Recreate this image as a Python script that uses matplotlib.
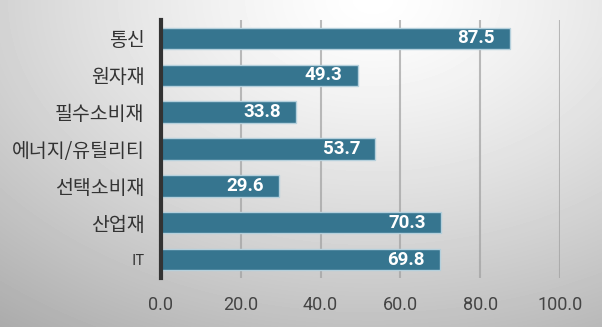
import numpy as np
import matplotlib
matplotlib.use("Agg")
import matplotlib.pyplot as plt

categories = ["통신", "원자재", "필수소비재", "에너지/유틸리티", "선택소비재", "산업재", "IT"]
values = [87.5, 49.3, 33.8, 53.7, 29.6, 70.3, 69.8]
xticks = [0, 20, 40, 60, 80, 100]

plt.rcParams["font.family"] = ["Noto Sans CJK KR", "DejaVu Sans"]

fig = plt.figure(figsize=(6.02, 3.27), dpi=100)

# radial background gradient
bg = fig.add_axes([0, 0, 1, 1], zorder=-10)
yy, xx = np.mgrid[0:1:327j, 0:1:602j]
r = np.sqrt(((xx - 0.62) / 0.85) ** 2 + ((yy - 0.0) / 1.05) ** 2)
shade = 1.0 - 0.26 * np.clip(r, 0, 1.2) ** 1.3
bg.imshow(shade, cmap="gray", vmin=0, vmax=1, aspect="auto", extent=[0, 1, 1, 0])
bg.set_axis_off()

ax = fig.add_axes([161 / 602, 1 - 278 / 327, (560 - 161) / 602, (278 - 20) / 327])
ax.set_facecolor("none")

y = np.arange(len(categories))
ax.barh(y, values, height=0.58, color="#36758f", edgecolor="#b5d0dc", linewidth=1.0, zorder=3)

for yi, v in zip(y, values):
    ax.text(v - 3.8, yi, f"{v:.1f}", ha="right", va="center", color="white",
            fontsize=13.5, fontweight="bold", family=["Roboto", "DejaVu Sans"], zorder=4)

ax.set_xlim(0, 100)
ax.set_ylim(len(categories) - 0.5, -0.5)
ax.set_xticks(xticks)
ax.set_xticklabels([f"{t:.1f}" for t in xticks], fontsize=13, color="#444444",
                   family=["Roboto", "DejaVu Sans"])
ax.set_yticks(y)
ax.set_yticklabels(categories, fontsize=14, color="#333333")
for lbl in ax.get_yticklabels():
    if lbl.get_text() == "IT":
        lbl.set_fontsize(10.5)
ax.tick_params(axis="both", length=0)
ax.tick_params(axis="y", pad=12)
ax.tick_params(axis="x", pad=13)

ax.grid(axis="x", color="#a0a0a0", linewidth=1.5, alpha=0.7, zorder=1)
ax.grid(axis="y", visible=False)
for s in ["top", "right", "bottom"]:
    ax.spines[s].set_visible(False)
ax.spines["left"].set_color("#333333")
ax.spines["left"].set_linewidth(3)
ax.spines["left"].set_zorder(5)

fig.savefig("out.png", dpi=100)
